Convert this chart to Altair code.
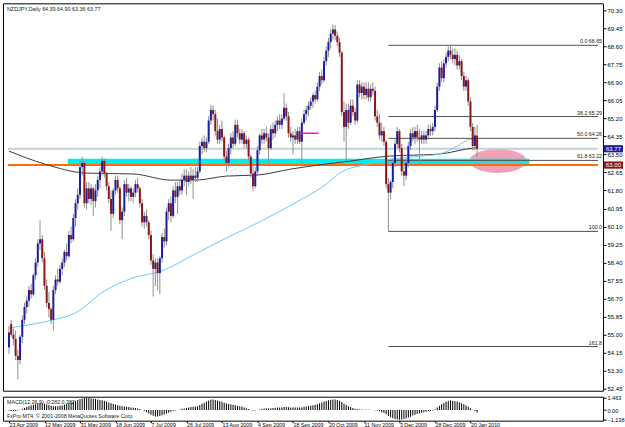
import altair as alt
import pandas as pd

# ---------------- data ----------------
opens = [54.4, 55.5, 55.0, 54.8, 54.0, 53.8, 54.9, 55.7, 56.3, 56.6,
         57.1, 56.9, 57.8, 58.4, 59.3, 59.5, 58.6, 57.3, 56.5, 56.2,
         55.7, 57.1, 57.6, 57.5, 58.1, 58.4, 58.9, 58.7, 59.7, 59.5,
         60.5, 61.2, 61.6, 62.9, 63.1, 61.2, 61.9, 61.4, 61.9, 61.3,
         61.8, 62.3, 62.7, 63.2, 62.6, 62.0, 61.4, 60.7, 61.8, 62.3,
         61.9, 60.4, 60.8, 62.1, 61.7, 61.9, 61.5, 61.7, 62.1, 61.9,
         61.2, 60.3, 60.6, 60.3, 59.7, 58.5, 58.1, 58.4, 57.9, 58.6,
         59.6, 59.4, 60.8, 61.2, 60.6, 61.8, 61.5, 62.0, 61.8, 62.3,
         62.5, 62.2, 62.5, 62.3, 62.5, 62.4, 62.7, 63.9, 64.1, 63.8,
         64.1, 65.1, 65.6, 65.4, 64.6, 64.2, 64.7, 64.3, 63.4, 63.1,
         63.8, 64.3, 64.0, 64.9, 64.5, 64.2, 64.5, 64.0, 64.2, 63.4,
         62.6, 62.0, 62.7, 63.7, 64.4, 64.2, 64.5, 64.3, 63.8, 64.7,
         64.5, 64.9, 65.1, 64.9, 65.2, 65.7, 65.3, 64.5, 64.3, 64.4,
         64.2, 64.6, 64.1, 65.0, 65.4, 65.6, 65.8, 66.0, 66.3, 66.1,
         66.7, 67.2, 67.0, 67.9, 68.4, 68.8, 69.2, 69.4, 69.1, 68.8,
         68.3, 65.5, 64.8, 65.6, 65.0, 65.8, 65.5, 65.1, 66.8, 66.4,
         66.7, 66.3, 66.6, 66.2, 66.6, 66.5, 65.3, 65.0, 64.4, 64.6,
         64.1, 62.1, 61.7, 62.2, 63.1, 64.0, 64.6, 63.8, 62.7, 62.5,
         63.1, 63.9, 64.5, 64.3, 64.6, 64.3, 64.2, 64.4, 64.2, 64.4,
         64.7, 64.6, 64.8, 65.6, 66.7, 67.6, 67.1, 67.8, 68.1, 68.4,
         68.2, 68.0, 68.2, 67.7, 67.9, 67.2, 66.7, 67.0, 66.0, 64.8,
         63.9, 64.39]
highs = [55.4, 55.7, 55.3, 55.2, 54.3, 55.0, 55.9, 56.5, 56.8, 57.3,
         57.4, 57.9, 58.6, 59.5, 60.4, 59.7, 58.9, 57.6, 57.0, 56.3,
         57.3, 57.8, 58.1, 58.3, 58.6, 59.0, 59.3, 59.9, 60.1, 60.7,
         61.4, 61.9, 63.2, 63.4, 63.2, 62.2, 62.2, 62.1, 62.0, 62.1,
         62.5, 62.9, 63.4, 63.3, 62.7, 62.2, 61.8, 61.9, 62.5, 62.5,
         62.0, 61.0, 62.3, 62.4, 62.1, 62.0, 61.9, 62.3, 62.4, 62.0,
         61.4, 60.8, 60.9, 60.4, 59.9, 58.8, 58.6, 58.6, 58.7, 59.8,
         60.0, 61.0, 61.4, 61.5, 62.0, 62.2, 62.2, 62.3, 62.6, 62.8,
         62.8, 62.7, 62.9, 62.8, 62.9, 62.9, 64.1, 64.3, 64.4, 64.3,
         65.3, 65.85, 65.8, 65.6, 65.2, 64.9, 65.1, 64.4, 63.7, 64.0,
         64.5, 64.6, 65.15, 65.1, 64.7, 64.7, 64.6, 64.4, 64.3, 63.5,
         63.0, 62.9, 63.9, 64.5, 64.7, 64.7, 64.8, 64.5, 64.9, 65.0,
         65.1, 65.3, 65.4, 65.4, 66.4, 65.9, 65.5, 64.8, 64.6, 64.7,
         64.8, 64.8, 65.2, 65.6, 65.8, 66.0, 66.2, 66.4, 66.5, 66.9,
         67.4, 67.5, 68.1, 68.6, 69.0, 69.4, 69.64, 69.6, 69.3, 69.0,
         68.4, 66.0, 65.9, 65.9, 66.1, 66.1, 65.7, 67.0, 67.0, 66.9,
         66.9, 66.9, 66.9, 66.8, 66.9, 66.7, 65.6, 65.4, 65.0, 64.8,
         64.2, 62.4, 62.3, 63.3, 64.2, 64.8, 64.7, 64.0, 63.2, 63.3,
         64.1, 64.7, 64.8, 64.8, 64.9, 64.7, 64.6, 64.6, 64.6, 64.9,
         64.9, 65.0, 65.8, 66.9, 67.8, 67.9, 68.0, 68.3, 68.6, 68.65,
         68.5, 68.5, 68.4, 68.2, 68.0, 67.4, 67.2, 67.1, 66.2, 65.0,
         64.8, 64.90]
lows = [54.1, 54.9, 54.5, 53.8, 52.9, 53.6, 54.6, 55.5, 56.0, 56.3,
        56.7, 56.8, 57.6, 58.2, 59.0, 58.4, 57.1, 56.3, 55.8, 55.5,
        55.2, 56.9, 57.3, 57.4, 57.8, 58.2, 58.5, 58.6, 59.3, 59.4,
        60.1, 60.9, 61.4, 62.5, 61.0, 60.9, 61.2, 61.1, 60.6, 61.0,
        61.5, 61.9, 62.5, 62.4, 61.8, 61.2, 59.9, 60.5, 61.6, 61.7,
        60.2, 59.5, 60.6, 61.5, 61.3, 61.3, 61.2, 61.5, 61.7, 61.0,
        60.1, 60.0, 60.1, 59.5, 58.3, 56.8, 57.3, 57.1, 56.9, 58.4,
        59.1, 59.2, 60.4, 60.3, 60.5, 61.2, 60.7, 61.6, 61.6, 62.0,
        61.6, 62.0, 62.1, 61.4, 62.2, 62.2, 62.6, 63.5, 63.6, 63.6,
        64.0, 64.9, 65.1, 64.4, 64.0, 64.0, 64.1, 63.2, 62.7, 62.9,
        63.5, 63.8, 63.9, 64.3, 64.0, 64.0, 63.8, 63.8, 63.2, 62.4,
        61.77, 61.9, 62.5, 63.5, 64.0, 64.0, 64.1, 63.05, 63.7, 64.2,
        64.3, 64.6, 64.7, 64.7, 65.1, 65.1, 64.3, 64.1, 63.5, 64.0,
        64.0, 64.0, 63.1, 64.9, 65.1, 65.3, 65.6, 65.7, 65.9, 66.0,
        66.5, 66.8, 66.9, 67.7, 68.1, 68.5, 68.9, 68.9, 68.6, 68.1,
        65.3, 64.1, 63.2, 64.7, 64.9, 65.3, 64.9, 65.0, 66.2, 66.1,
        66.1, 66.1, 66.0, 66.0, 66.3, 65.1, 64.8, 64.2, 64.1, 63.9,
        61.9, 59.87, 61.4, 61.9, 62.9, 63.8, 63.6, 62.5, 62.0, 62.3,
        62.9, 63.7, 64.1, 64.0, 64.1, 62.95, 64.0, 64.0, 64.0, 64.2,
        64.4, 64.4, 64.6, 65.5, 66.5, 66.9, 66.9, 67.6, 67.9, 68.0,
        67.8, 67.7, 67.5, 67.5, 67.0, 66.5, 66.5, 65.8, 64.6, 63.7,
        63.7, 63.36]
closes = [55.1, 55.0, 54.8, 54.0, 53.8, 54.9, 55.7, 56.3, 56.6, 57.1,
          56.9, 57.8, 58.4, 59.3, 59.5, 58.6, 57.3, 56.5, 56.2, 55.7,
          57.1, 57.6, 57.5, 58.1, 58.4, 58.9, 58.7, 59.7, 59.5, 60.5,
          61.2, 61.6, 62.9, 63.1, 61.2, 61.9, 61.4, 61.9, 61.3, 61.8,
          62.3, 62.7, 63.2, 62.6, 62.0, 61.4, 60.7, 61.8, 62.3, 61.9,
          60.4, 60.8, 62.1, 61.7, 61.9, 61.5, 61.7, 62.1, 61.9, 61.2,
          60.3, 60.6, 60.3, 59.7, 58.5, 58.1, 58.4, 57.9, 58.6, 59.6,
          59.4, 60.8, 61.2, 60.6, 61.8, 61.5, 62.0, 61.8, 62.3, 62.5,
          62.2, 62.5, 62.3, 62.5, 62.4, 62.7, 63.9, 64.1, 63.8, 64.1,
          65.1, 65.6, 65.4, 64.6, 64.2, 64.7, 64.3, 63.4, 63.1, 63.8,
          64.3, 64.0, 64.9, 64.5, 64.2, 64.5, 64.0, 64.2, 63.4, 62.6,
          62.0, 62.7, 63.7, 64.4, 64.2, 64.5, 64.3, 63.8, 64.7, 64.5,
          64.9, 65.1, 64.9, 65.2, 65.7, 65.3, 64.5, 64.3, 64.4, 64.2,
          64.6, 64.1, 65.0, 65.4, 65.6, 65.8, 66.0, 66.3, 66.1, 66.7,
          67.2, 67.0, 67.9, 68.4, 68.8, 69.2, 69.4, 69.1, 68.8, 68.3,
          65.5, 64.8, 65.6, 65.0, 65.8, 65.5, 65.1, 66.8, 66.4, 66.7,
          66.3, 66.6, 66.2, 66.6, 66.5, 65.3, 65.0, 64.4, 64.6, 64.1,
          62.1, 61.7, 62.2, 63.1, 64.0, 64.6, 63.8, 62.7, 62.5, 63.1,
          63.9, 64.5, 64.3, 64.6, 64.3, 64.2, 64.4, 64.2, 64.4, 64.7,
          64.6, 64.8, 65.6, 66.7, 67.6, 67.1, 67.8, 68.1, 68.4, 68.2,
          68.0, 68.2, 67.7, 67.9, 67.2, 66.7, 67.0, 66.0, 64.8, 63.9,
          64.4, 63.77]

macd_values = [-0.05, -0.1, -0.12, -0.1,
               -0.05, 0.05, 0.15, 0.25, 0.35, 0.45, 0.55, 0.62, 0.7, 0.78, 0.85,
               0.82, 0.75, 0.68, 0.6, 0.52,
               0.46, 0.45, 0.46, 0.5, 0.55, 0.62,
               0.7, 0.8, 0.9, 1.0, 1.1, 1.2, 1.3,
               1.38, 1.44, 1.463, 1.44, 1.4, 1.35,
               1.3, 1.25, 1.2, 1.15, 1.1, 1.0, 0.9, 0.8, 0.72,
               0.65, 0.58, 0.5, 0.45, 0.42, 0.38, 0.35, 0.32, 0.28, 0.25, 0.2, 0.12, 0.02,
               -0.12, -0.25, -0.4, -0.55, -0.68, -0.75, -0.75, -0.7, -0.62, -0.52,
               -0.4, -0.3, -0.2, -0.12, -0.05, 0.02, 0.08, 0.15, 0.2,
               0.25, 0.3, 0.35, 0.38, 0.42, 0.46,
               0.6, 0.75, 0.88, 1.0, 1.12, 1.22, 1.25,
               1.2, 1.12, 1.05, 0.98, 0.88, 0.78, 0.72, 0.68, 0.62, 0.58, 0.52, 0.45, 0.38,
               0.3, 0.22, 0.12, 0.02, -0.05, -0.06, 0.0,
               0.08, 0.15, 0.2, 0.22, 0.2, 0.22, 0.25, 0.28, 0.3, 0.3, 0.32, 0.35, 0.36,
               0.34, 0.32, 0.3, 0.3, 0.32, 0.3, 0.32, 0.38, 0.42, 0.48, 0.52, 0.58, 0.62,
               0.7, 0.8, 0.9, 1.0, 1.08, 1.15, 1.2, 1.24, 1.25,
               1.2, 1.1, 0.95, 0.75, 0.6, 0.45, 0.35, 0.25, 0.15,
               0.1, 0.08, 0.06, 0.05, 0.05, 0.04, 0.04, 0.02, -0.02, -0.08, -0.15,
               -0.25, -0.35, -0.5, -0.7, -0.85, -0.95, -1.05, -1.1, -1.138,
               -1.12, -1.05, -0.98, -0.88, -0.78, -0.65, -0.55, -0.45, -0.38,
               -0.3, -0.25, -0.2, -0.15, -0.1, -0.04,
               0.1, 0.3, 0.5, 0.7, 0.85, 0.98, 1.08, 1.12,
               1.1, 1.05, 1.0, 0.92, 0.82, 0.7, 0.55,
               0.4, 0.22, 0.05, -0.12, -0.282]

# moving averages (bar index, value)
ma_slow_idx = [0, 16, 35, 56, 73, 84, 98, 112, 127, 143, 154, 167, 171, 194, 209, 211]
ma_slow_val = [63.66, 63.05, 62.62, 62.58, 62.29, 62.29, 62.48, 62.53, 62.81, 63.05,
               63.19, 63.38, 63.42, 63.52, 63.80, 63.82]
ma_fast_idx = [0, 18, 30, 43, 56, 69, 84, 98, 112, 128, 143, 149, 152, 162, 167, 171,
               185, 194, 202, 208, 211]
ma_fast_val = [55.32, 55.65, 56.03, 57.06, 57.68, 58.01, 58.81, 59.56, 60.27, 61.16,
               62.10, 62.62, 62.78, 63.05, 63.20, 63.26, 63.42, 63.52, 63.89, 64.22, 64.18]

price_ticks = [52.45, 53.30, 54.15, 55.00, 55.85, 56.70, 57.55, 58.40, 59.25, 60.10,
               60.95, 61.80, 62.65, 63.50, 64.35, 65.20, 66.05, 66.90, 67.75, 68.60,
               69.45, 70.30]
date_labels = ["23 Apr 2009", "12 May 2009", "31 May 2009", "18 Jun 2009", "7 Jul 2009",
               "26 Jul 2009", "13 Aug 2009", "4 Sep 2009", "28 Sep 2009", "20 Oct 2009",
               "11 Nov 2009", "3 Dec 2009", "28 Dec 2009", "20 Jan 2010"]
date_step = 16
macd_ticks = [-1.138, 0.0, 1.463]

fib_levels = [68.65, 65.29, 64.26, 63.22, 59.87, 54.44]
fib_texts = ["0.0  68.65", "38.2  65.29", "50.0 64.26", "61.8 63.22", "100.0", "161.8"]
fib_start = 171

support_zone = [63.03, 63.30]
support_start, support_end = 26.5, 234.5
orange_level = 63.00
bid_level = 63.77
magenta_level, magenta_start, magenta_end = 64.5, 131.5, 139.5
ellipse_center = (220.4, 63.19)

title_text = "NZDJPY,Daily  64.39 64.90 63.36 63.77"
macd_text = "MACD(12,26,9) -0.282 0.382"
copy_text = "FxPro MT4, \u00a9 2001-2008 MetaQuotes Software Corp."

# ---------------- chart ----------------
XMIN, XMAX = -0.44, 265.5
FONT = "Liberation Sans"
W = 601
xs = alt.Scale(domain=[XMIN, XMAX], nice=False, zero=False)
ys = alt.Scale(domain=[52.354, 70.63], nice=False, zero=False)
price_axis = alt.Axis(orient="right", values=price_ticks, format=".2f", title=None,
                      labelFont=FONT, labelFontSize=6, labelColor="#000", tickColor="#000",
                      tickSize=3, labelPadding=1, domain=False, grid=False)

rows = list(zip(opens, highs, lows, closes))
candles = pd.DataFrame({
    "i": list(range(len(rows))),
    "open": [r[0] for r in rows],
    "high": [r[1] for r in rows],
    "low": [r[2] for r in rows],
    "close": [r[3] for r in rows],
})
candles["dir"] = ["up" if c >= o else "down" for o, c in zip(candles["open"], candles["close"])]


def X(f):
    return alt.X(f, type="quantitative", scale=xs, axis=None)


def Y(f):
    return alt.Y(f, type="quantitative", scale=ys, axis=price_axis)


base = alt.Chart(candles)

zone = alt.Chart(pd.DataFrame({"x": [support_start], "x2": [support_end],
                               "y": [support_zone[0]], "y2": [support_zone[1]]})).mark_rect(
    color="#00eded").encode(x=X("x"), x2="x2", y=Y("y"), y2="y2")

ell_path = "M -1 0 A 1 0.42 0 1 0 1 0 A 1 0.42 0 1 0 -1 0 Z"
ellipse = alt.Chart(pd.DataFrame({"x": [ellipse_center[0]], "y": [ellipse_center[1]]})).mark_point(
    shape=ell_path, size=3249, filled=True, color="#f2a2b6", opacity=1).encode(x=X("x"), y=Y("y"))
hatch = alt.Chart(pd.DataFrame({"x": [210.0], "x2": [230.0],
                                "y": [support_zone[0]], "y2": [support_zone[1]]})).mark_rect(
    color="#6fb9c4", opacity=0.55).encode(x=X("x"), x2="x2", y=Y("y"), y2="y2")

orange = alt.Chart(pd.DataFrame({"x": [XMIN], "x2": [XMAX], "y": [orange_level]})).mark_rule(
    color="#ff6a10", strokeWidth=2).encode(x=X("x"), x2="x2", y=Y("y"))
bid = alt.Chart(pd.DataFrame({"x": [XMIN], "x2": [XMAX], "y": [bid_level]})).mark_rule(
    color="#c6ced8", strokeWidth=2).encode(x=X("x"), x2="x2", y=Y("y"))

fib_df = pd.DataFrame({"y": fib_levels, "t": fib_texts, "x": [fib_start] * len(fib_levels),
                       "x2": [XMAX] * len(fib_levels)})
fib_lines = alt.Chart(fib_df).mark_rule(color="#505050", strokeWidth=1).encode(
    x=X("x"), x2="x2", y=Y("y"))
fib_labels = alt.Chart(fib_df).mark_text(align="right", baseline="alphabetic", dy=-2,
                                         font=FONT, fontSize=5.3, color="#202020").encode(
    x=alt.value(W - 1), y=Y("y"), text="t:N")

ma_slow = alt.Chart(pd.DataFrame({"i": ma_slow_idx, "v": ma_slow_val})).mark_line(
    color="#3c3c3c", strokeWidth=1, interpolate="monotone").encode(x=X("i"), y=Y("v"))
ma_fast = alt.Chart(pd.DataFrame({"i": ma_fast_idx, "v": ma_fast_val})).mark_line(
    color="#6cc8f4", strokeWidth=1, interpolate="monotone").encode(x=X("i"), y=Y("v"))

wicks = base.mark_rule(color="#909090", strokeWidth=1).encode(x=X("i"), y=Y("low"), y2="high")
bodies = base.mark_bar(size=2).encode(
    x=X("i"), y=Y("open"), y2="close",
    color=alt.Color("dir:N", scale=alt.Scale(domain=["up", "down"], range=["#1c1c9c", "#8c1616"]),
                    legend=None))

magenta = alt.Chart(pd.DataFrame({"x": [magenta_start], "x2": [magenta_end], "y": [magenta_level]})).mark_rule(
    color="#ff00ff", strokeWidth=1.5).encode(x=X("x"), x2="x2", y=Y("y"))

title = alt.Chart(pd.DataFrame({"t": [title_text]})).mark_text(
    align="left", baseline="middle", font=FONT, fontSize=5.4, color="#202020").encode(
    x=alt.value(4), y=alt.value(6), text="t:N")

tags_df = pd.DataFrame({"v": [bid_level, orange_level], "t": ["63.77", "63.00"],
                        "lo": [bid_level - 0.17, orange_level - 0.17],
                        "hi": [bid_level + 0.17, orange_level + 0.17]})
tag_box = alt.Chart(tags_df).mark_rect().encode(
    x=alt.value(W + 1), x2=alt.value(W + 20), y=Y("lo"), y2="hi",
    color=alt.Color("t:N", scale=alt.Scale(domain=["63.77", "63.00"], range=["#000000", "#f04a12"]),
                    legend=None))
tag_txt = alt.Chart(tags_df).mark_text(align="left", baseline="middle", font=FONT, fontSize=6,
                                       color="white").encode(
    x=alt.value(W + 3), y=Y("v"), text="t:N")

main = alt.layer(
    ellipse, zone, hatch, orange, bid, fib_lines, fib_labels, ma_slow, ma_fast,
    wicks, bodies, magenta, title, tag_box, tag_txt
).properties(width=W, height=388)

# ---------------- MACD panel ----------------
macd_df = pd.DataFrame({"i": list(range(len(macd_values))), "m": macd_values})
ms = alt.Scale(domain=[-1.25, 1.58], nice=False, zero=False)
label_array = "[" + ",".join("'%s'" % d for d in date_labels) + "]"
macd_bars = alt.Chart(macd_df).mark_bar(size=1, color="#000000").encode(
    x=alt.X("i:Q", scale=xs,
            axis=alt.Axis(values=[k * date_step for k in range(len(date_labels))],
                          labelExpr=label_array + "[round(datum.value/%d)]" % date_step,
                          labelAlign="left", labelFont=FONT, labelFontSize=5.3,
                          labelColor="#000", tickColor="#000", tickSize=2, labelPadding=0,
                          domain=False, grid=False, title=None, labelOverlap=False)),
    y=alt.Y("m:Q", scale=ms,
            axis=alt.Axis(orient="right", values=macd_ticks, title=None,
                          labelExpr="datum.value == 0 ? '0.00' : format(datum.value, '.3f')",
                          labelFont=FONT, labelFontSize=5.5, labelColor="#000", tickColor="#000",
                          tickSize=3, labelPadding=1, domain=False, grid=False)),
    y2=alt.datum(0))
macd_txt = alt.Chart(pd.DataFrame({"t": [macd_text, copy_text], "yy": [5, 19]})).mark_text(
    align="left", baseline="middle", font=FONT, fontSize=5.3, color="#202020").encode(
    x=alt.value(4), y=alt.Y("yy:Q", scale=None), text="t:N")

macd = alt.layer(macd_bars, macd_txt).properties(width=W, height=24)

chart = alt.vconcat(main, macd, spacing=2).properties(
    padding={"left": 2, "top": 2, "right": 0, "bottom": 0},
    background="white"
).configure_view(stroke="#000000", strokeWidth=1).configure_concat(spacing=2)

chart.save("out.html", embed_options={"renderer": "svg", "actions": False})
